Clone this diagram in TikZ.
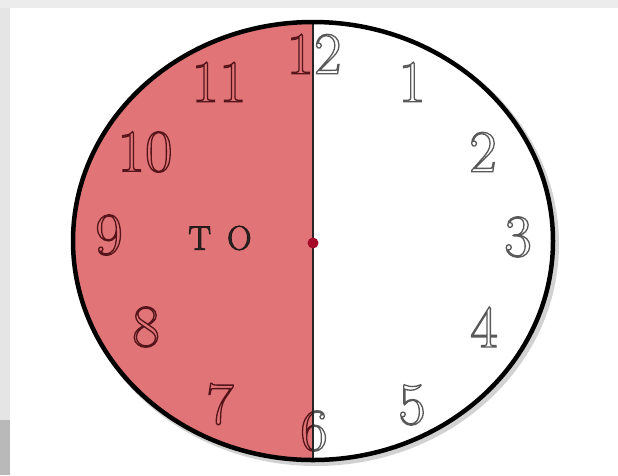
\documentclass[tikz,border=0pt]{standalone}
\usepackage{tikz}
\definecolor{facered}{RGB}{224,116,118}
\definecolor{dotred}{RGB}{165,10,40}
\definecolor{inkred}{RGB}{85,20,25}
\definecolor{inkgray}{RGB}{90,90,90}
% text drawn as outline: fill colour, stroke (r g b), line width, text
\newcommand{\outlined}[4]{{\color{#1}\special{pdf:literal direct #2 RG 2 Tr #3 w}#4\special{pdf:literal direct 0 Tr}}}
\newcommand{\pinknum}[1]{\outlined{facered}{0.33 0.08 0.1}{1.3}{#1}}
\newcommand{\whitenum}[1]{\outlined{white}{0.35 0.35 0.35}{1.3}{#1}}

\begin{document}
\begin{tikzpicture}[x=1pt, y=-1pt,
  numeral/.style={inner sep=0pt, font=\fontsize{60}{60}\selectfont}]
  \useasboundingbox (0,0) rectangle (618,475);

  % screenshot frame
  \fill[gray!15] (0,0) rectangle (618,8);
  \fill[gray!20] (0,8) rectangle (10,475);
  \fill[gray!55] (0,420) rectangle (10,475);

  % clock face
  \coordinate (centre) at (313,241);
  \coordinate (twelve) at (313,22);
  \coordinate (six) at (313,460);
  \draw[gray!35, line width=6pt] (316,244) ellipse [x radius=240pt, y radius=219pt];
  \fill[white] (centre) ellipse [x radius=240pt, y radius=219pt];
  \begin{scope}
    \clip (0,0) rectangle (313,475);
    \fill[facered] (centre) ellipse [x radius=240pt, y radius=219pt];
  \end{scope}

  % numerals, split along the half hour line
  \foreach \lab/\px/\py in {12/314/54, 1/412/82, 2/483/152, 3/518/237, 4/484/327, 5/412/405,
                            6/314/431, 7/220/404, 8/146/327, 9/109/235, 10/145/152, 11/219/82}{
    \begin{scope}
      \clip (313,0) rectangle (618,475);
      \node[numeral] (r\lab) at (\px,\py) {\whitenum{\lab}};
    \end{scope}
    \begin{scope}
      \clip (0,0) rectangle (313,475);
      \node[numeral] (l\lab) at (\px,\py) {\pinknum{\lab}};
    \end{scope}
  }

  % hands and rim
  \draw[line width=1.4pt, black!85] (twelve) -- (six);
  \draw[line width=4.5pt] (centre) ellipse [x radius=240pt, y radius=219pt];
  \node[circle, fill=dotred, inner sep=0pt, minimum size=11pt] (pivot) at (313,243) {};

  \node[font=\fontsize{34}{34}\selectfont] (to) at (220,238)
    {\outlined{black!85}{0.15 0.1 0.1}{0.9}{T\hspace{16pt}O}};
\end{tikzpicture}
\end{document}
